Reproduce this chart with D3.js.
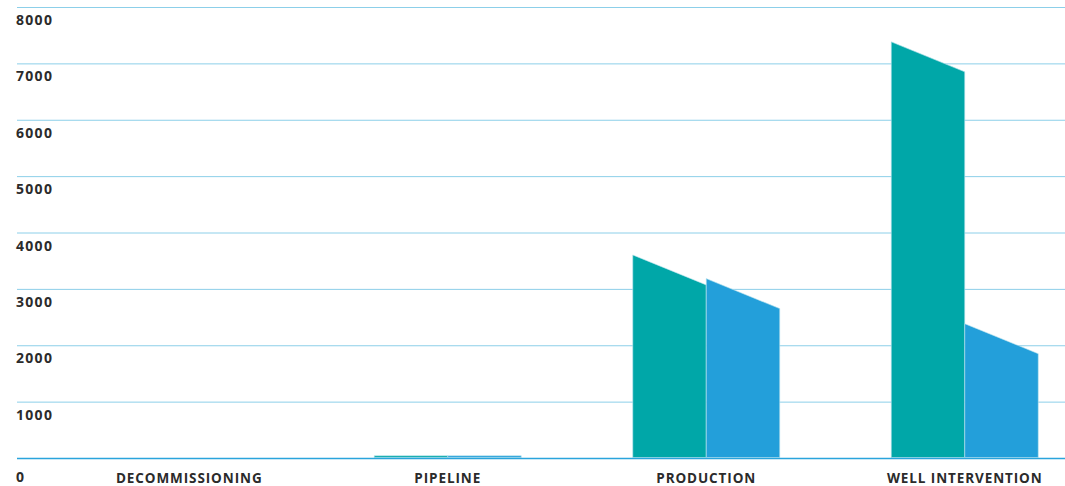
<!DOCTYPE html>
<html lang="en">
  <head>
    <meta charset="utf-8">
    <title>Segments</title>
    <script src="https://cdn.jsdelivr.net/npm/d3@7"></script>
    <style>
html, body {
  margin: 0;
  padding: 0;
  background: #fff;
}
svg text {
  font-family: "Open Sans", sans-serif;
  font-weight: 700;
  fill: #2b2b2b;
}
.grid line {
  stroke: #8ccfe9;
  stroke-width: 1;
}
    </style>
  </head>
  <body>
    <div id="chart"></div>
    <script>

// data
var categories = ["DECOMMISSIONING", "PIPELINE", "PRODUCTION", "WELL INTERVENTION"];
var series = ["a", "b"];
var valuesA = [0, 40, 3070, 6850];
var valuesB = [0, 40, 2650, 1850];
var tickValues = [0, 1000, 2000, 3000, 4000, 5000, 6000, 7000, 8000];

var colors = {a: "#00a7a8", b: "#239fda"};

var width = 1065, height = 486;
var svg = d3.select("#chart").append("svg")
    .attr("width", width)
    .attr("height", height);

var y = d3.scaleLinear().domain([0, 8000]).range([458, 7]);
var x = d3.scaleBand().domain(categories).range([60, 1094]).padding(0);
var groupW = 147;
var sub = d3.scaleBand().domain(series).range([0, groupW]);

// gridlines
var grid = svg.append("g").attr("class", "grid");
grid.selectAll("line")
    .data(tickValues.filter(function(d) { return d > 0; }))
  .enter().append("line")
    .attr("x1", 17).attr("x2", width)
    .attr("y1", function(d) { return y(d) + 0.5; })
    .attr("y2", function(d) { return y(d) + 0.5; });

// y labels, placed below each line
svg.selectAll(".ylab")
    .data(tickValues)
  .enter().append("text")
    .attr("class", "ylab")
    .attr("x", 16)
    .attr("y", function(d) { return d === 0 ? 482 : y(d) + 18; })
    .style("font-size", "14px")
    .style("letter-spacing", "1.3px")
    .text(function(d) { return d; });

// bars with a slanted top (small bars stay flat)
var rows = categories.map(function(c, i) {
  return [{cat: c, key: "a", v: valuesA[i]}, {cat: c, key: "b", v: valuesB[i]}];
});
var slant = 30;

function barPath(d) {
  var x0 = x(d.cat) + x.bandwidth() / 2 - groupW / 2 + sub(d.key);
  var x1 = x0 + sub.bandwidth();
  var yb = y(0) - 0.5, yr = y(d.v);
  var s = (yb - yr) > slant ? slant : 0;
  return "M" + x0 + "," + yb + "L" + x0 + "," + (yr - s) +
         "L" + x1 + "," + yr + "L" + x1 + "," + yb + "Z";
}

svg.append("g").selectAll("g")
    .data(rows)
  .enter().append("g")
  .selectAll("path")
    .data(function(d) { return d.filter(function(e) { return e.v > 0; }); })
  .enter().append("path")
    .attr("d", barPath)
    .attr("fill", function(d) { return colors[d.key]; })
    .attr("stroke", "#bfe6ee")
    .attr("stroke-width", 0.6);

// baseline
svg.append("line")
    .attr("x1", 17).attr("x2", width)
    .attr("y1", y(0) + 0.5).attr("y2", y(0) + 0.5)
    .attr("stroke", "#2aa4dc")
    .attr("stroke-width", 1.5);

// category labels
var xAxis = d3.axisBottom(x).tickSize(0).tickPadding(0);
var gx = svg.append("g").attr("transform", "translate(0,470)").call(xAxis);
gx.select(".domain").remove();
gx.selectAll("text")
    .attr("dy", "0.95em")
    .style("font-size", "13.5px")
    .style("letter-spacing", "0.9px")
    .style("font-family", "'Open Sans', sans-serif")
    .style("font-weight", 700)
    .attr("fill", "#2b2b2b");

    </script>
  </body>
</html>
